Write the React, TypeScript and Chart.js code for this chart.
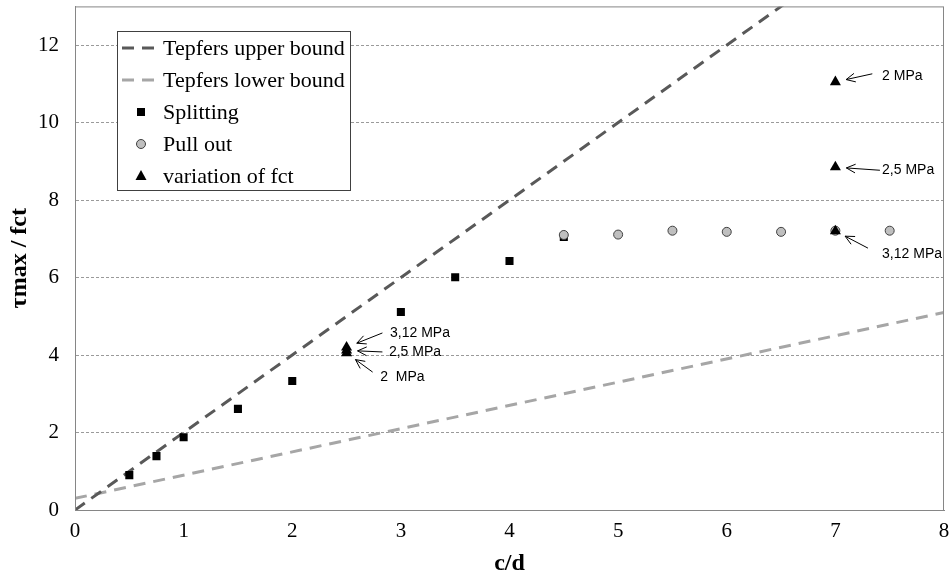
import { useEffect, useRef } from "react";
import { Chart, registerables } from "chart.js";
Chart.register(...registerables);

// ---- data ----
const boundX = [0, 8];
const upperY = [0, 16];
const lowerY = [0.3, 5.1];
const splitX = [0.5, 0.75, 1, 1.5, 2, 3, 3.5, 4, 4.5];
const splitY = [0.9, 1.39, 1.88, 2.61, 3.33, 5.11, 6.01, 6.43, 7.05];
const pullX = [4.5, 5, 5.5, 6, 6.5, 7, 7.5];
const pullY = [7.1, 7.11, 7.21, 7.18, 7.18, 7.21, 7.21];
const varX = [2.5, 2.5, 2.5, 7, 7, 7];
const varY = [4.05, 4.12, 4.2, 11.05, 8.85, 7.2];
const varLabels = ["2  MPa", "2,5 MPa", "3,12 MPa", "2 MPa", "2,5 MPa", "3,12 MPa"];
// arrow tails and label anchors (data units)
const tailX = [2.74, 2.83, 2.83, 7.34, 7.41, 7.3];
const tailY = [3.56, 4.08, 4.57, 11.26, 8.77, 6.76];
const textX = [2.81, 2.89, 2.9, 7.43, 7.43, 7.43];
const textY = [3.43, 4.08, 4.57, 11.2, 8.77, 6.6];
const yTicks = [0, 2, 4, 6, 8, 10, 12];
const legendNames = [
  "Tepfers upper bound",
  "Tepfers lower bound",
  "Splitting",
  "Pull out",
  "variation of fct",
];
const xTitle = "c/d";
const yTitle = "τmax / fct";

const SERIF = "'Liberation Serif', 'Times New Roman', serif";
const SANS = "'Liberation Sans', Arial, sans-serif";
const UPPER_COLOR = "#595959";
const LOWER_COLOR = "#a6a6a6";
const FRAME = "#868686";

const zip = (xs: number[], ys: number[]) => xs.map((x, i) => ({ x, y: ys[i] }));

const overlay = {
  id: "overlay",
  afterDatasetsDraw(chart: any) {
    const ctx = chart.ctx;
    const xs = chart.scales.x;
    const ys = chart.scales.y;
    const a = chart.chartArea;
    // frame
    ctx.save();
    ctx.strokeStyle = FRAME;
    ctx.lineWidth = 1;
    ctx.strokeRect(a.left + 0.5, a.top + 0.5, a.right - a.left - 1, a.bottom - a.top);
    ctx.restore();

    // annotations
    ctx.save();
    ctx.strokeStyle = "#000";
    ctx.fillStyle = "#000";
    ctx.lineWidth = 1;
    ctx.font = `14px ${SANS}`;
    ctx.textBaseline = "middle";
    ctx.textAlign = "left";
    varX.forEach((vx, i) => {
      const px = xs.getPixelForValue(vx);
      const py = ys.getPixelForValue(varY[i]);
      const tx = xs.getPixelForValue(tailX[i]);
      const ty = ys.getPixelForValue(tailY[i]);
      const dx = tx - px;
      const dy = ty - py;
      const len = Math.hypot(dx, dy);
      const ux = dx / len;
      const uy = dy / len;
      const gap = 11;
      const hx = px + ux * gap;
      const hy = py + uy * gap;
      ctx.beginPath();
      ctx.moveTo(tx, ty);
      ctx.lineTo(hx, hy);
      const ang = Math.atan2(uy, ux);
      const hl = 10;
      const ha = 0.45;
      ctx.moveTo(hx + Math.cos(ang + ha) * hl, hy + Math.sin(ang + ha) * hl);
      ctx.lineTo(hx, hy);
      ctx.lineTo(hx + Math.cos(ang - ha) * hl, hy + Math.sin(ang - ha) * hl);
      ctx.stroke();
      ctx.fillText(varLabels[i], xs.getPixelForValue(textX[i]), ys.getPixelForValue(textY[i]));
    });
    ctx.restore();

    // legend
    ctx.save();
    const lx = 117, ly = 31, lw = 233, lh = 159;
    ctx.fillStyle = "#fff";
    ctx.fillRect(lx, ly, lw, lh);
    ctx.strokeStyle = "#404040";
    ctx.lineWidth = 1;
    ctx.strokeRect(lx + 0.5, ly + 0.5, lw, lh);
    ctx.font = `22px ${SERIF}`;
    ctx.textBaseline = "middle";
    ctx.textAlign = "left";
    legendNames.forEach((name, i) => {
      const cy = 48 + i * 32;
      const mx = 141;
      if (i < 2) {
        ctx.strokeStyle = i === 0 ? UPPER_COLOR : LOWER_COLOR;
        ctx.lineWidth = 3;
        ctx.setLineDash([12, 8]);
        ctx.beginPath();
        ctx.moveTo(122, cy);
        ctx.lineTo(160, cy);
        ctx.stroke();
        ctx.setLineDash([]);
      } else if (i === 2) {
        ctx.fillStyle = "#000";
        ctx.fillRect(mx - 4, cy - 4, 8, 8);
      } else if (i === 3) {
        ctx.fillStyle = "#bfbfbf";
        ctx.strokeStyle = "#404040";
        ctx.lineWidth = 1;
        ctx.beginPath();
        ctx.arc(mx, cy, 4.5, 0, Math.PI * 2);
        ctx.fill();
        ctx.stroke();
      } else {
        ctx.fillStyle = "#000";
        ctx.beginPath();
        ctx.moveTo(mx, cy - 6);
        ctx.lineTo(mx + 5.5, cy + 4);
        ctx.lineTo(mx - 5.5, cy + 4);
        ctx.closePath();
        ctx.fill();
      }
      ctx.fillStyle = "#000";
      ctx.fillText(name, 163, cy + 1);
    });
    ctx.restore();
  },
};

export default function App() {
  const ref = useRef<HTMLCanvasElement>(null);
  useEffect(() => {
    const canvas = ref.current!;
    const chart = new Chart(canvas, {
      type: "scatter",
      data: {
        datasets: [
          {
            label: legendNames[4],
            data: zip(varX, varY),
            pointStyle: "triangle",
            pointRadius: 6.4,
            backgroundColor: "#000",
            borderColor: "#000",
            borderWidth: 0,
            order: 1,
          },
          {
            label: legendNames[3],
            data: zip(pullX, pullY),
            pointStyle: "circle",
            pointRadius: 4.5,
            backgroundColor: "#bfbfbf",
            borderColor: "#404040",
            borderWidth: 1,
            order: 2,
          },
          {
            label: legendNames[2],
            data: zip(splitX, splitY),
            pointStyle: "rect",
            pointRadius: 5.7,
            backgroundColor: "#000",
            borderColor: "#000",
            borderWidth: 0,
            order: 3,
          },
          {
            type: "line",
            label: legendNames[0],
            data: zip(boundX, upperY),
            borderColor: UPPER_COLOR,
            borderWidth: 3,
            borderDash: [12, 8],
            pointRadius: 0,
            showLine: true,
            order: 4,
          } as any,
          {
            type: "line",
            label: legendNames[1],
            data: zip(boundX, lowerY),
            borderColor: LOWER_COLOR,
            borderWidth: 3,
            borderDash: [12, 8],
            pointRadius: 0,
            showLine: true,
            order: 5,
          } as any,
        ],
      },
      options: {
        responsive: false,
        animation: false,
        layout: { padding: { top: 6, right: 8, left: 0, bottom: 0 } },
        plugins: { legend: { display: false }, tooltip: { enabled: false } },
        scales: {
          x: {
            type: "linear",
            min: 0,
            max: 8,
            ticks: {
              stepSize: 1,
              color: "#000",
              font: { family: SERIF, size: 21 },
              padding: 9,
            },
            grid: { display: false, drawTicks: false },
            border: { display: true, color: FRAME },
            title: {
              display: true,
              text: xTitle,
              color: "#000",
              font: { family: SERIF, size: 24, weight: "bold" },
              padding: { top: 0, bottom: 0 },
            },
            afterFit: (s: any) => {
              s.height = 68;
              s.paddingLeft = 0;
              s.paddingRight = 0;
            },
          },
          y: {
            type: "linear",
            min: 0,
            max: 13,
            afterBuildTicks: (s: any) => {
              s.ticks = yTicks.map((v) => ({ value: v }));
            },
            ticks: {
              color: "#000",
              font: { family: SERIF, size: 21 },
              padding: 16,
            },
            grid: { color: "#9a9a9a", lineWidth: 1, drawTicks: false },
            border: { display: true, color: FRAME, dash: [3, 2] },
            title: {
              display: true,
              text: yTitle,
              color: "#000",
              font: { family: SERIF, size: 24, weight: "bold" },
              padding: { top: 5, bottom: 0 },
            },
            afterFit: (s: any) => {
              s.width = 75;
              s.paddingTop = 0;
              s.paddingBottom = 0;
            },
          },
        },
      },
      plugins: [overlay],
    });
    return () => chart.destroy();
  }, []);
  return (
    <div style={{ position: "absolute", left: 0, top: 0, width: 952, height: 578, background: "#fff" }}>
      <canvas ref={ref} width={952} height={578} style={{ width: 952, height: 578 }} />
    </div>
  );
}
